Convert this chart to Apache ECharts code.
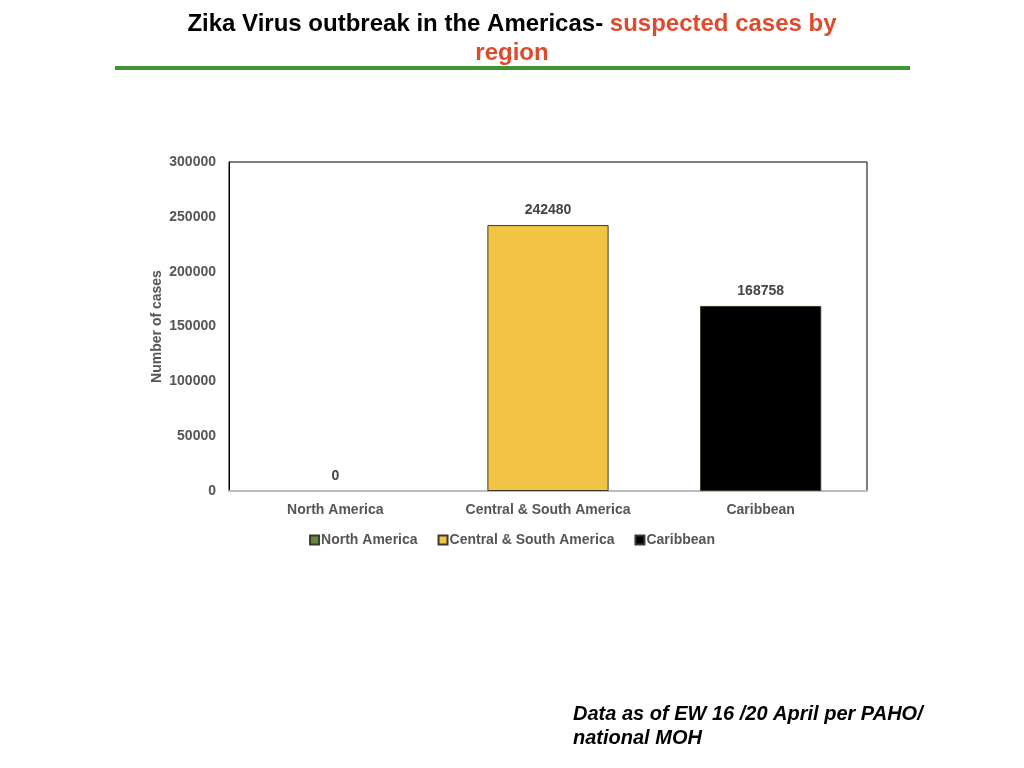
<!DOCTYPE html>
<html>
<head>
<meta charset="utf-8">
<script src="https://cdn.jsdelivr.net/npm/echarts@6/dist/echarts.min.js"></script>
<style>
  html, body { margin: 0; padding: 0; background: #fff; }
  #main { width: 1024px; height: 768px; }
</style>
</head>
<body>
<div id="main"></div>
<script>
const regions = ['North America', 'Central & South America', 'Caribbean']
const cases = [0, 242480, 168758]
const colors = ['#5b8c3c', '#f2c446', '#000000']
const yTicks = [0, 50000, 100000, 150000, 200000, 250000, 300000]

const chart = echarts.init(document.getElementById('main'))

// one series per region so the legend shows all three
const series = regions.map((name, i) => ({
  name: name,
  type: 'bar',
  barWidth: '57%',
  barGap: '-100%',
  data: regions.map((r, j) => {
    if (j !== i) return null
    // a zero bar should not leave a border line on the axis
    return cases[i] === 0 ? { value: 0, itemStyle: { borderWidth: 0 } } : cases[i]
  }),
  itemStyle: { color: colors[i], borderColor: '#3a3a2a', borderWidth: 1 },
  label: {
    show: true,
    position: 'top',
    distance: 8,
    color: '#444',
    fontWeight: 'bold',
    fontSize: 14,
    fontFamily: 'Liberation Sans'
  }
}))

chart.setOption({
  animation: false,
  textStyle: { fontFamily: 'Liberation Sans' },
  title: [{
    left: 'center',
    top: 7,
    text: '{a|Zika Virus outbreak in the Americas- }{b|suspected cases by}',
    textStyle: {
      rich: {
        a: { fontSize: 24, fontWeight: 'bold', color: '#000', fontFamily: 'Liberation Sans' },
        b: { fontSize: 24, fontWeight: 'bold', color: '#e04a2c', fontFamily: 'Liberation Sans' }
      }
    }
  }, {
    left: 'center',
    top: 36,
    text: 'region',
    textStyle: { fontSize: 24, fontWeight: 'bold', color: '#e04a2c', fontFamily: 'Liberation Sans' }
  }],
  graphic: [{
    type: 'line',
    shape: { x1: 115, y1: 68, x2: 910, y2: 68 },
    style: { stroke: '#3d9632', lineWidth: 4 }
  }, {
    type: 'text',
    left: 573,
    top: 702,
    style: {
      text: 'Data as of EW 16 /20 April per PAHO/\nnational MOH',
      fill: '#000',
      font: 'italic bold 20px "Liberation Sans"',
      lineHeight: 24
    }
  }],
  legend: {
    top: 528,
    left: 'center',
    itemWidth: 9,
    itemHeight: 9,
    itemGap: 20,
    icon: 'rect',
    textStyle: { color: '#555', fontWeight: 'bold', fontSize: 14, padding: [0, 0, 0, -3] },
    data: regions
  },
  grid: {
    left: 229, right: 157, top: 162, bottom: 277,
    show: true, borderColor: '#000', borderWidth: 1
  },
  xAxis: {
    type: 'category',
    data: regions,
    axisLine: { lineStyle: { color: '#bbb', width: 2 } },
    axisTick: { show: false },
    axisLabel: { color: '#555', fontWeight: 'bold', fontSize: 14, margin: 12, interval: 0 }
  },
  yAxis: {
    type: 'value',
    min: yTicks[0],
    max: yTicks[yTicks.length - 1],
    interval: 50000,
    name: 'Number of cases',
    nameLocation: 'middle',
    nameGap: 65,
    nameMoveOverlap: false,
    nameTextStyle: { color: '#555', fontWeight: 'bold', fontSize: 14 },
    axisLine: { show: true, lineStyle: { color: '#000' } },
    axisTick: { show: false },
    splitLine: { show: false },
    axisLabel: {
      color: '#555', fontWeight: 'bold', fontSize: 14, margin: 13,
      formatter: v => String(v)
    }
  },
  series: series
})
</script>
</body>
</html>
